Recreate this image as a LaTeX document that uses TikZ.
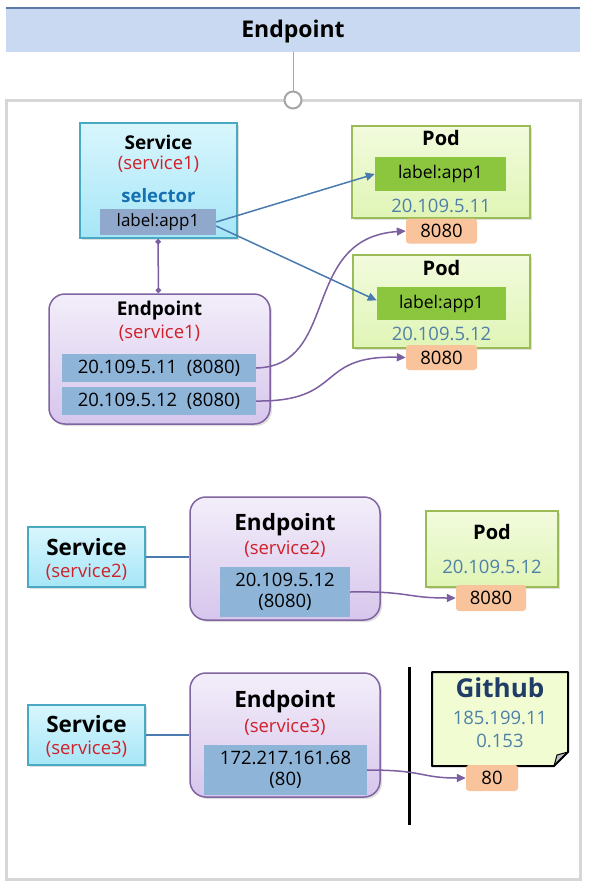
\documentclass[tikz,border=0pt]{standalone}
\usepackage{fontspec}
\setmainfont{Open Sans}
\usetikzlibrary{arrows.meta,shadows}
\definecolor{barfill}{HTML}{C9D9F1}
\definecolor{barline}{HTML}{5B7BA6}
\definecolor{framegray}{HTML}{D6D6D6}
\definecolor{svctop}{HTML}{D9F6FD}
\definecolor{svcbot}{HTML}{A6E6F7}
\definecolor{svcline}{HTML}{4AA9C2}
\definecolor{eptop}{HTML}{F3EEFA}
\definecolor{epbot}{HTML}{D7C6EC}
\definecolor{epline}{HTML}{8064A2}
\definecolor{podtop}{HTML}{F2FBDD}
\definecolor{podbot}{HTML}{E0F5B6}
\definecolor{podline}{HTML}{9BBB59}
\definecolor{rowfill}{HTML}{8EB4D8}
\definecolor{selfill}{HTML}{8FA8CC}
\definecolor{lblgreen}{HTML}{8CC63F}
\definecolor{portfill}{HTML}{F9C49B}
\definecolor{redtext}{HTML}{D0202A}
\definecolor{iptext}{HTML}{4F80A8}
\definecolor{seltext}{HTML}{1570B2}
\definecolor{bluearrow}{HTML}{4A7BB0}
\definecolor{purplearrow}{HTML}{7B5FA0}
\definecolor{gitfill}{HTML}{F1FCD2}
\definecolor{gittext}{HTML}{1F3D66}
\begin{document}
\begin{tikzpicture}[x=1pt,y=-1pt,
  shadowed/.style={drop shadow={opacity=0.25,shadow xshift=2pt,shadow yshift=-2pt}},
  svcbox/.style={rectangle,draw=svcline,line width=1.5pt,top color=svctop,bottom color=svcbot,shadowed,inner sep=0},
  epbox/.style={rectangle,rounded corners=16pt,draw=epline,line width=1.5pt,top color=eptop,bottom color=epbot,shadowed,inner sep=0},
  podbox/.style={rectangle,draw=podline,line width=1.5pt,top color=podtop,bottom color=podbot,shadowed,inner sep=0},
  rowbox/.style={rectangle,fill=rowfill,inner sep=0,font=\fontsize{18.5}{21}\selectfont},
  selbox/.style={rectangle,fill=selfill,inner sep=0,font=\fontsize{17}{20}\selectfont},
  lblbox/.style={rectangle,fill=lblgreen,inner sep=0,font=\fontsize{17.5}{20}\selectfont},
  portbox/.style={rectangle,rounded corners=3pt,fill=portfill,inner sep=0,font=\fontsize{18.5}{20}\selectfont},
  bigtxt/.style={inner sep=0,font=\bfseries\fontsize{22.5}{26}\selectfont},
  medtxt/.style={inner sep=0,font=\bfseries\fontsize{19}{22}\selectfont},
  podtxt/.style={inner sep=0,font=\bfseries\fontsize{20}{22}\selectfont},
  redtxt/.style={inner sep=0,text=redtext,font=\fontsize{18.5}{22}\selectfont},
  iptxt/.style={inner sep=0,text=iptext,font=\fontsize{18.5}{22}\selectfont},
  bluearr/.style={draw=bluearrow,line width=1.5pt,-{Triangle[length=9pt,width=8pt]}},
  purparr/.style={draw=purplearrow,line width=1.5pt,-{Triangle[length=9pt,width=8pt]}},
  plainline/.style={draw=bluearrow,line width=1.5pt}
]
\useasboundingbox (0,0) rectangle (593,884);
\fill[white] (0,0) rectangle (593,884);

% title bar
\node[rectangle,fill=barfill,minimum width=574pt,minimum height=44pt,inner sep=0] (title) at (293,30) {};
\draw[barline,line width=2.5pt] (title.north west) -- (title.north east);
\node[inner sep=0,font=\bfseries\fontsize{23}{27}\selectfont] (titletxt) at (293,32) {Endpoint};

% frame
\draw[framegray,line width=3pt] (6,100) rectangle (580,879);
\node[circle,draw=gray!70,fill=white,line width=2pt,minimum size=17pt,inner sep=0] (knob) at (293,100) {};
\draw[gray!70,line width=1pt] (title.south) -- (knob.north);

% ---------- section 1 ----------
\node[svcbox,minimum width=157pt,minimum height=115pt] (svc1) at (158.5,180.5) {};
\node[medtxt] (svc1t) at (158.5,142) {Service};
\node[redtxt] (svc1n) at (158.5,164) {(service1)};
\node[inner sep=0,text=seltext,font=\bfseries\fontsize{18.5}{21}\selectfont] (sel) at (158.5,196) {selector};
\node[selbox,minimum width=116pt,minimum height=26pt] (sellbl) at (158,222) {label:app1};

\node[epbox,minimum width=221pt,minimum height=130pt] (ep1) at (159.5,359) {};
\node[medtxt] (ep1t) at (159.5,311) {Endpoint};
\node[redtxt] (ep1n) at (159.5,333) {(service1)};
\node[rowbox,minimum width=194pt,minimum height=28pt] (ep1r1) at (159,368) {20.109.5.11\ \ (8080)};
\node[rowbox,minimum width=194pt,minimum height=28pt] (ep1r2) at (159,401) {20.109.5.12\ \ (8080)};

\draw[draw=purplearrow,line width=1.5pt,{Diamond[length=6pt,width=6pt]}-{Diamond[length=6pt,width=6pt]}] (svc1.south -| sellbl.south) -- (svc1.south |- ep1.north);

\node[podbox,minimum width=178pt,minimum height=92pt] (pod1) at (441,172) {};
\node[podtxt] (pod1t) at (441,138) {Pod};
\node[lblbox,minimum width=131pt,minimum height=34pt] (pod1l) at (440.5,174) {label:app1};
\node[iptxt] (pod1ip) at (441,206) {20.109.5.11};
\node[portbox,minimum width=71pt,minimum height=25pt] (port1) at (441.5,231) {8080};

\node[podbox,minimum width=177pt,minimum height=93pt] (pod2) at (441.5,301.5) {};
\node[podtxt] (pod2t) at (441.5,268) {Pod};
\node[lblbox,minimum width=129pt,minimum height=33pt] (pod2l) at (441.5,303.5) {label:app1};
\node[iptxt] (pod2ip) at (441.5,334) {20.109.5.12};
\node[portbox,minimum width=71pt,minimum height=25pt] (port2) at (441.5,357.5) {8080};

\draw[bluearr] (sellbl.east) -- (pod1l.west);
\draw[bluearr] ([yshift=-4pt]sellbl.east) -- ([yshift=3pt]pod2l.west);

\draw[purparr] (ep1r1.east) .. controls (340,366) and (300,238) .. (port1.west);
\draw[purparr] (ep1r2.east) .. controls (345,402) and (315,355) .. (port2.west);

% ---------- section 2 ----------
\node[svcbox,minimum width=117pt,minimum height=60pt] (svc2) at (86.5,557) {};
\node[bigtxt] (svc2t) at (86.5,547) {Service};
\node[redtxt] (svc2n) at (86.5,572) {(service2)};

\node[epbox,minimum width=190pt,minimum height=123pt] (ep2) at (285,558.5) {};
\node[bigtxt] (ep2t) at (285,525) {Endpoint};
\node[redtxt] (ep2n) at (285,549) {(service2)};
\node[rowbox,minimum width=130pt,minimum height=50pt,align=center] (ep2r) at (285,592) {20.109.5.12\\(8080)};

\draw[plainline] (svc2.east) -- (svc2.east -| ep2.west);

\node[podbox,minimum width=132pt,minimum height=76pt] (pod3) at (492,549) {};
\node[podtxt] (pod3t) at (492,532) {Pod};
\node[iptxt] (pod3ip) at (492,567) {20.109.5.12};
\node[portbox,minimum width=70pt,minimum height=26pt] (port3) at (491,598) {8080};

\draw[purparr] (ep2r.east) .. controls (410,591) and (405,598) .. (port3.west);

% ---------- section 3 ----------
\node[svcbox,minimum width=117pt,minimum height=60pt] (svc3) at (86.5,735) {};
\node[bigtxt] (svc3t) at (86.5,724) {Service};
\node[redtxt] (svc3n) at (86.5,749) {(service3)};

\node[epbox,minimum width=190pt,minimum height=124pt] (ep3) at (285,735) {};
\node[bigtxt] (ep3t) at (285,702) {Endpoint};
\node[redtxt] (ep3n) at (285,727) {(service3)};
\node[rowbox,minimum width=163pt,minimum height=50pt,align=center] (ep3r) at (285.5,770) {172.217.161.68\\(80)};

\draw[plainline] (svc3.east) -- (svc3.east -| ep3.west);

\coordinate (wallt) at (409,667);
\coordinate (wallb) at (409,825);
\draw[black,line width=3pt] (wallt) -- (wallb);

\node[rectangle,minimum width=136pt,minimum height=94pt,inner sep=0] (github) at (500,719) {};
\fill[gitfill] (432,672) -- (568,672) -- (568,752) -- (554,766) -- (432,766) -- cycle;
\fill[black!25] (554,766) -- (557,755) -- (568,752) -- cycle;
\draw[black,line width=2pt,line join=round] (432,672) -- (568,672) -- (568,752) -- (554,766) -- (432,766) -- cycle;
\draw[black,line width=1pt,line join=round] (554,766) -- (557,755) -- (568,752);
\node[inner sep=0,text=gittext,font=\bfseries\fontsize{26}{30}\selectfont] (gitt) at (500,688) {Github};
\node[iptxt] (gitip1) at (500,718) {185.199.11};
\node[iptxt] (gitip2) at (500,741) {0.153};
\node[portbox,minimum width=52pt,minimum height=26pt] (port4) at (492,778) {80};

\draw[purparr] (ep3r.east) .. controls (425,770) and (420,778) .. (port4.west);
\end{tikzpicture}
\end{document}
